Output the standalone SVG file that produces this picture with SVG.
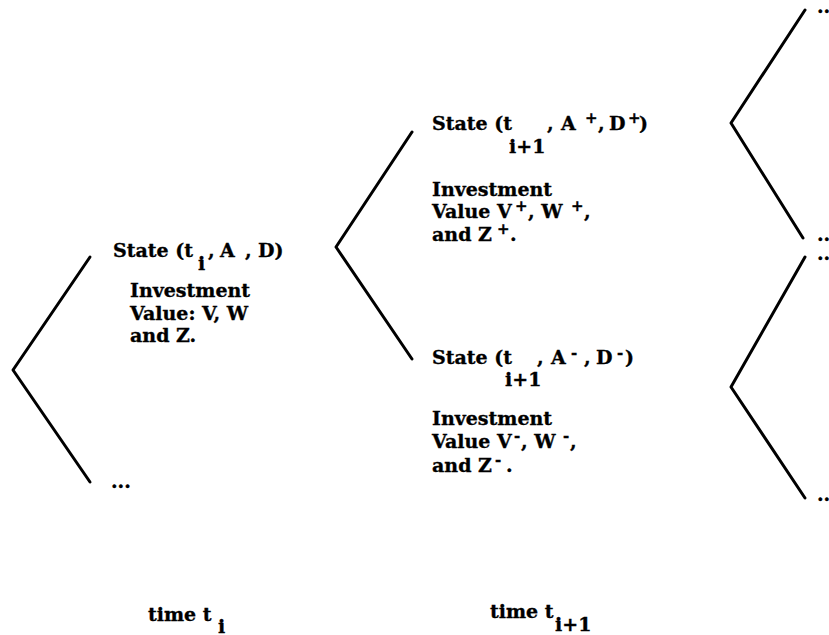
<svg xmlns="http://www.w3.org/2000/svg" width="829" height="635" viewBox="0 0 829 635">
<style>
text{font-family:"DejaVu Serif","Liberation Serif",serif;font-weight:bold;font-size:19px;fill:#000;stroke:#000;stroke-width:0.35}
.sup{font-size:15px}
.br{fill:none;stroke:#000;stroke-width:3;stroke-linecap:round;stroke-linejoin:round}
</style>
<rect width="829" height="635" fill="#fff"/>
<g id="connectors">
<polyline class="br" points="90,257 13,370 90,482"/>
<polyline class="br" points="412,132 336,247 412,359"/>
<polyline class="br" points="805,10 731,123 803,238"/>
<polyline class="br" points="805,257 731,387 805,498"/>
</g>
<g id="node-root">
<text x="113" y="257">State (t</text>
<text x="198" y="270">i</text>
<text y="257"><tspan x="208">,</tspan><tspan x="220">A</tspan><tspan x="245">,</tspan><tspan x="258">D)</tspan></text>
<text x="130" y="297">Investment</text>
<text x="130" y="320">Value: V, W</text>
<text x="130" y="342">and Z.</text>
</g>
<g id="node-up">
<text x="432" y="130">State (t</text>
<text x="509" y="153">i+1</text>
<text y="130"><tspan x="547">,</tspan><tspan x="561">A</tspan></text>
<text class="sup" x="585" y="123">+</text>
<text y="130"><tspan x="598">,</tspan><tspan x="609">D</tspan></text>
<text class="sup" x="628" y="123">+</text>
<text x="639" y="130">)</text>
<text x="432" y="196">Investment</text>
<text x="432" y="218">Value V</text>
<text class="sup" x="515" y="211">+</text>
<text x="528" y="218">, W</text>
<text class="sup" x="571" y="211">+</text>
<text x="584" y="218">,</text>
<text x="432" y="241">and Z</text>
<text class="sup" x="497" y="234">+</text>
<text x="510" y="241">.</text>
</g>
<g id="node-down">
<text x="432" y="364">State (t</text>
<text x="505" y="386">i+1</text>
<text y="364"><tspan x="537">,</tspan><tspan x="551">A</tspan></text>
<text class="sup" x="571" y="358">-</text>
<text y="364"><tspan x="584">,</tspan><tspan x="596">D</tspan></text>
<text class="sup" x="617" y="358">-</text>
<text x="625" y="364">)</text>
<text x="432" y="425">Investment</text>
<text x="432" y="448">Value V</text>
<text class="sup" x="514" y="441">-</text>
<text x="521" y="448">, W</text>
<text class="sup" x="563" y="441">-</text>
<text x="570" y="448">,</text>
<text x="432" y="472">and Z</text>
<text class="sup" x="495" y="465">-</text>
<text x="506" y="472">.</text>
</g>
<g id="leaves">
<text x="111" y="488">...</text>
<text x="817" y="13">...</text>
<text x="817" y="241">...</text>
<text x="817" y="260">...</text>
<text x="817" y="501">...</text>
</g>
<g id="time-labels">
<text x="148" y="621">time t</text>
<text x="218" y="633">i</text>
<text x="490" y="618">time t</text>
<text x="555" y="631">i+1</text>
</g>
</svg>
